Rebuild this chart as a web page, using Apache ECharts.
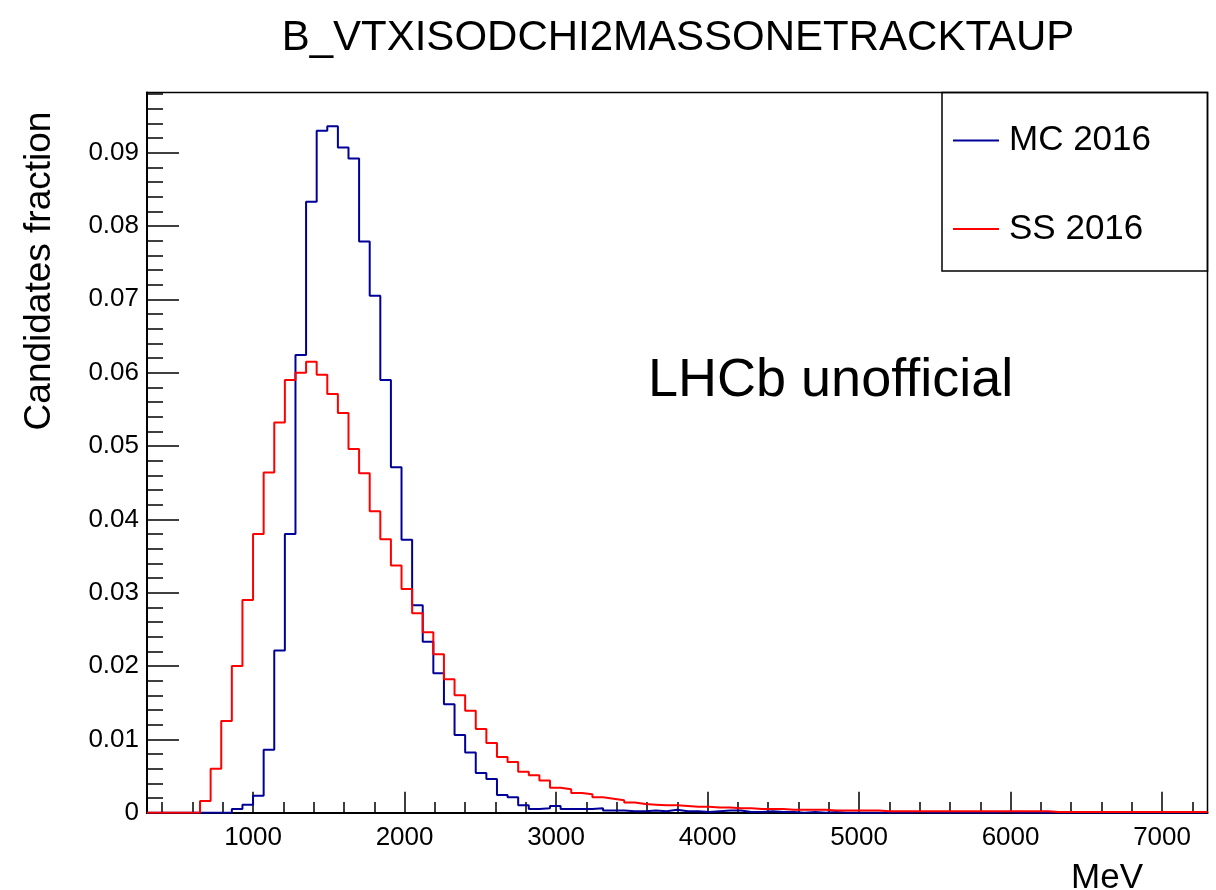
<!DOCTYPE html>
<html>
	<head>
		<meta charset="utf-8">
		<title>B_VTXISODCHI2MASSONETRACKTAUP</title>
		<style>
			html,body {
				margin: 0;
				padding: 0;
				background-color: #ffffff;
			}
			#main {
				width: 1216px;
				height: 890px;
			}
		</style>
	</head>
	<body>
		<div id="main"></div>
	</body>
	<script src="https://cdn.jsdelivr.net/npm/echarts@6/dist/echarts.min.js"></script>
	<script>
		// histogram binning (MeV)
		var xMin = 300;
		var binWidth = 70;
		var nBins = 100;

		var xTickLabels = [1000, 2000, 3000, 4000, 5000, 6000, 7000];
		var yTickLabels = [0, 0.01, 0.02, 0.03, 0.04, 0.05, 0.06, 0.07, 0.08, 0.09];
		var yMax = 0.0982;

		var mcValues = [
			0, 0, 0, 0, 0, 0, 0, 0, 0.0005, 0.0011,
			0.0023, 0.0086, 0.0221, 0.0380, 0.0624, 0.0833, 0.0930, 0.0936, 0.0907, 0.0892,
			0.0779, 0.0705, 0.0590, 0.0471, 0.0372, 0.0283, 0.0233, 0.0190, 0.0148, 0.0106,
			0.0082, 0.0054, 0.0046, 0.0024, 0.0021, 0.0010, 0.0005, 0.0006, 0.0009, 0.0005,
			0.0005, 0.0005, 0.0006, 0.0003, 0.0003, 0.0002, 0.0002, 0.0003, 0.0002, 0.0004,
			0.0002, 0.0002, 0.0001, 0.0002, 0.0003, 0.0003, 0.0001, 0.0001, 0.0002, 0.0001,
			0.0001, 0, 0.0001, 0, 0.0001, 0, 0, 0, 0, 0,
			0, 0, 0.0001, 0, 0, 0, 0, 0, 0, 0,
			0.0001, 0, 0, 0, 0, 0, 0, 0, 0, 0,
			0, 0, 0, 0, 0, 0, 0, 0, 0, 0
		];

		var ssValues = [
			0, 0, 0, 0, 0, 0.0016, 0.0060, 0.0125, 0.0200, 0.0290,
			0.0380, 0.0464, 0.0532, 0.0590, 0.0600, 0.0615, 0.0597, 0.0571, 0.0545, 0.0496,
			0.0463, 0.0411, 0.0373, 0.0337, 0.0305, 0.0272, 0.0246, 0.0216, 0.0182, 0.0160,
			0.0139, 0.0114, 0.0095, 0.0076, 0.0069, 0.0056, 0.0051, 0.0044, 0.0034, 0.0032,
			0.0027, 0.0025, 0.0021, 0.0019, 0.0017, 0.0014, 0.0012, 0.0011, 0.0010, 0.0010,
			0.0009, 0.0008, 0.0008, 0.0007, 0.0007, 0.0006, 0.0006, 0.0005, 0.0005, 0.0005,
			0.0004, 0.0004, 0.0004, 0.0004, 0.0003, 0.0003, 0.0003, 0.0003, 0.0003, 0.0002,
			0.0002, 0.0002, 0.0002, 0.0002, 0.0002, 0.0002, 0.0002, 0.0002, 0.0002, 0.0002,
			0.0002, 0.0002, 0.0002, 0.0002, 0.0002, 0.0001, 0.0001, 0.0001, 0.0001, 0.0001,
			0.0001, 0.0001, 0.0001, 0.0001, 0.0001, 0.0001, 0.0001, 0.0001, 0.0001, 0.0001
		];

		var xMax = xMin + nBins * binWidth;

		// step points: one per bin low edge, plus the last upper edge
		var toSteps = function(values) {
			var pts = [];
			for (var i = 0; i < values.length; i++) {
				pts.push([xMin + i * binWidth, values[i]]);
			}
			pts.push([xMax, values[values.length - 1]]);
			return pts;
		};

		var xMinor = [];
		for (var v = 400; v < xMax; v += 200) {
			if (v % 1000 !== 0) xMinor.push(v);
		}
		var yMinor = [];
		for (var k = 1; k * 0.002 < yMax; k++) {
			if (k % 5 !== 0) yMinor.push(+(k * 0.002).toFixed(3));
		}

		var font = '"Liberation Sans", Arial, Helvetica, sans-serif';

		var chart = echarts.init(document.getElementById('main'));
		var option = {
			animation: false,
			backgroundColor: '#ffffff',
			textStyle: { fontFamily: font },
			grid: {
				left: 147,
				right: 8.5,
				top: 92.5,
				bottom: 77.3,
				show: true,
				borderColor: '#000',
				borderWidth: 1.5,
				backgroundColor: 'transparent'
			},
			legend: {
				orient: 'vertical',
				left: 953,
				top: 122.5,
				padding: 0,
				itemGap: 52.5,
				itemWidth: 46,
				itemHeight: 2,
				icon: 'rect',
				textStyle: {
					fontFamily: font,
					fontSize: 35,
					lineHeight: 36,
					color: '#000',
					padding: [0, 0, 0, 5]
				},
				data: ['MC 2016', 'SS 2016']
			},
			xAxis: [{
				type: 'value',
				min: xMin,
				max: xMax,
				splitLine: { show: false },
				axisLine: { show: true, onZero: false, lineStyle: { color: '#000', width: 2 } },
				axisTick: {
					show: true,
					inside: true,
					length: 21,
					customValues: xTickLabels,
					lineStyle: { color: '#000', width: 1.5 }
				},
				axisLabel: {
					customValues: xTickLabels,
					formatter: function(val) { return String(val); },
					fontFamily: font,
					fontSize: 26,
					color: '#000',
					margin: 12
				}
			}, {
				type: 'value',
				min: xMin,
				max: xMax,
				position: 'bottom',
				splitLine: { show: false },
				axisLine: { show: false },
				axisLabel: { show: false },
				axisTick: {
					show: true,
					inside: true,
					length: 10.7,
					customValues: xMinor,
					lineStyle: { color: '#000', width: 1.5 }
				}
			}],
			yAxis: [{
				type: 'value',
				min: 0,
				max: yMax,
				splitLine: { show: false },
				axisLine: { show: true, onZero: false, lineStyle: { color: '#000', width: 2 } },
				axisTick: {
					show: true,
					inside: true,
					length: 32,
					customValues: yTickLabels,
					lineStyle: { color: '#000', width: 1.5 }
				},
				axisLabel: {
					customValues: yTickLabels,
					formatter: function(val) { return String(val); },
					fontFamily: font,
					fontSize: 26,
					color: '#000',
					margin: 8
				}
			}, {
				type: 'value',
				min: 0,
				max: yMax,
				position: 'left',
				splitLine: { show: false },
				axisLine: { show: false },
				axisLabel: { show: false },
				axisTick: {
					show: true,
					inside: true,
					length: 16,
					customValues: yMinor,
					lineStyle: { color: '#000', width: 1.5 }
				}
			}],
			series: [{
				name: 'MC 2016',
				type: 'line',
				step: 'end',
				showSymbol: false,
				symbol: 'none',
				data: toSteps(mcValues),
				lineStyle: { color: '#000099', width: 2 },
				itemStyle: { color: '#000099' }
			}, {
				name: 'SS 2016',
				type: 'line',
				step: 'end',
				showSymbol: false,
				symbol: 'none',
				data: toSteps(ssValues),
				lineStyle: { color: '#ff0000', width: 2 },
				itemStyle: { color: '#ff0000' }
			}],
			graphic: [{
				type: 'rect',
				shape: { x: 942, y: 92.5, width: 265.5, height: 178.5 },
				style: { fill: 'none', stroke: '#000', lineWidth: 1.5 },
				z: 10
			}, {
				type: 'text',
				x: 678,
				y: 38,
				style: {
					text: 'B_VTXISODCHI2MASSONETRACKTAUP',
					font: '42px ' + font,
					fill: '#000',
					textAlign: 'center',
					textVerticalAlign: 'middle'
				}
			}, {
				type: 'text',
				x: 648,
				y: 381,
				style: {
					text: 'LHCb unofficial',
					font: '54px ' + font,
					fill: '#000',
					textAlign: 'left',
					textVerticalAlign: 'middle'
				}
			}, {
				type: 'text',
				x: 40,
				y: 271,
				rotation: Math.PI / 2,
				style: {
					text: 'Candidates fraction',
					font: '37px ' + font,
					fill: '#000',
					textAlign: 'center',
					textVerticalAlign: 'middle'
				}
			}, {
				type: 'text',
				x: 1143,
				y: 878,
				style: {
					text: 'MeV',
					font: '35px ' + font,
					fill: '#000',
					textAlign: 'right',
					textVerticalAlign: 'middle'
				}
			}]
		};
		chart.setOption(option);
	</script>
</html>
